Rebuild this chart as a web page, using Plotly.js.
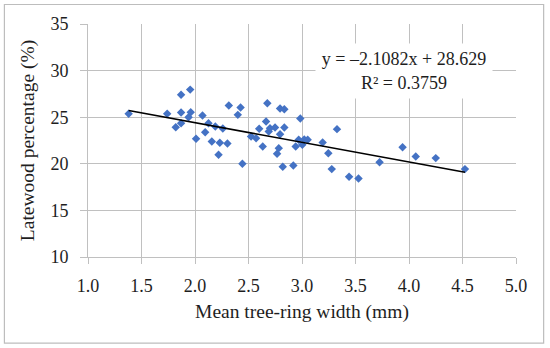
<!DOCTYPE html>
<html>
<head>
<meta charset="utf-8">
<script src="https://cdn.plot.ly/plotly-3.0.1.min.js"></script>
<style>
  html, body { margin: 0; padding: 0; background: #ffffff; }
  #chart { width: 550px; height: 348px; }
</style>
</head>
<body>
<div id="chart"></div>
<script>
// Mean tree-ring width (mm)
const ringWidth = [
  1.38, 1.74, 1.82, 1.87, 1.87, 1.87, 1.94, 1.955, 1.96, 2.01,
  2.07, 2.095, 2.126, 2.157, 2.19, 2.22, 2.232, 2.26, 2.303, 2.316,
  2.40, 2.426, 2.443, 2.524, 2.571, 2.60, 2.633, 2.664, 2.676, 2.689,
  2.701, 2.748, 2.767, 2.783, 2.795, 2.795, 2.835, 2.835, 2.82, 2.919,
  2.941, 2.969, 2.984, 3.003, 3.021, 3.053, 3.193, 3.246, 3.278, 3.327,
  3.44, 3.528, 3.725, 3.94, 4.063, 4.25, 4.523
];
// Latewood percentage (%)
const latewood = [
  25.36, 25.36, 23.93, 27.42, 25.50, 24.36, 25.00, 27.96, 25.54, 22.68,
  25.18, 23.39, 24.36, 22.39, 24.00, 20.96, 22.25, 23.78, 22.17, 26.25,
  25.25, 26.03, 20.00, 22.93, 22.75, 23.75, 21.85, 24.53, 26.50, 23.46,
  23.82, 23.89, 21.07, 21.68, 23.18, 25.93, 25.86, 23.89, 19.68, 19.82,
  21.85, 22.57, 24.86, 22.05, 22.60, 22.57, 22.28, 21.14, 19.43, 23.72,
  18.61, 18.42, 20.17, 21.78, 20.78, 20.61, 19.43
];
// Linear trendline as printed on the chart
const slope = -2.1082;
const intercept = 28.629;
const rSquared = 0.3759;
const xTicks = [1.0, 1.5, 2.0, 2.5, 3.0, 3.5, 4.0, 4.5, 5.0];
const yTicks = [10, 15, 20, 25, 30, 35];

const xMin = Math.min(...ringWidth);
const xMax = Math.max(...ringWidth);
const trendX = [xMin, xMax];
const trendY = trendX.map(x => slope * x + intercept);

const gridCol = '#c0c0c0';
const serif = '"Liberation Serif", "Times New Roman", serif';
const textCol = '#1e1e1e';

const traces = [
  {
    type: 'scatter', mode: 'markers',
    x: ringWidth, y: latewood,
    marker: { symbol: 'diamond', size: 6.5, color: '#4472C4', line: { width: 0 } },
    hoverinfo: 'x+y', showlegend: false
  },
  {
    type: 'scatter', mode: 'lines',
    x: trendX, y: trendY,
    line: { color: '#000000', width: 1.5 },
    hoverinfo: 'skip', showlegend: false
  }
];

const layout = {
  width: 550, height: 348,
  margin: { l: 87.7, r: 33.7, t: 24, b: 90.7 },
  paper_bgcolor: '#ffffff', plot_bgcolor: '#ffffff',
  font: { family: serif, size: 18, color: textCol },
  showlegend: false,
  xaxis: {
    range: [1, 5], tickvals: xTicks, ticktext: xTicks.map(v => v.toFixed(1)),
    showgrid: true, gridcolor: gridCol, gridwidth: 1,
    showline: true, linecolor: gridCol, linewidth: 1, mirror: false,
    zeroline: false,
    ticks: 'outside', ticklen: 6, tickcolor: gridCol, tickwidth: 1,
    tickfont: { family: serif, size: 18, color: textCol },
    ticklabelstandoff: 6,
    title: { text: 'Mean tree-ring width (mm)', font: { family: serif, size: 19.5, color: textCol }, standoff: 9 },
    fixedrange: true
  },
  yaxis: {
    range: [10, 35], tickvals: yTicks, ticktext: yTicks.map(String),
    showgrid: true, gridcolor: gridCol, gridwidth: 1,
    showline: true, linecolor: gridCol, linewidth: 1,
    zeroline: false,
    ticks: 'outside', ticklen: 7, tickcolor: gridCol, tickwidth: 1,
    tickfont: { family: serif, size: 18, color: textCol },
    ticklabelstandoff: 8,
    title: { text: 'Latewood percentage (%)', font: { family: serif, size: 19.5, color: textCol }, standoff: 10 },
    fixedrange: true
  },
  annotations: [
    {
      xref: 'x', yref: 'y', x: 3.952, y: 29.96,
      xanchor: 'center', yanchor: 'middle',
      text: 'y = \u20132.1082x + 28.629<br>R\u00B2 = ' + rSquared.toFixed(4),
      showarrow: false, align: 'center',
      bgcolor: '#ffffff', width: 174, height: 52,
      font: { family: serif, size: 18, color: textCol }
    }
  ],
  shapes: [
    {
      type: 'rect', xref: 'paper', yref: 'paper',
      x0: -0.1953, x1: 1.0646, y0: -0.3695, y1: 1.0836,
      line: { color: '#bdbdbd', width: 1.2 }, fillcolor: 'rgba(0,0,0,0)', layer: 'above'
    }
  ]
};

Plotly.newPlot('chart', traces, layout, { staticPlot: true, displayModeBar: false });
</script>
</body>
</html>
